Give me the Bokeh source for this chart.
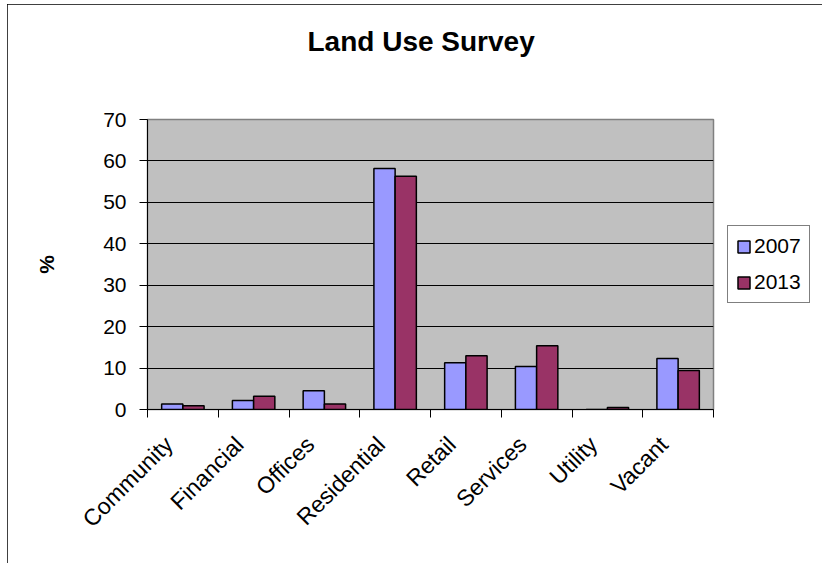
import numpy as np
from bokeh.plotting import figure
from bokeh.models import Range1d, FixedTicker, Legend, LegendItem, ColumnDataSource, Title
from bokeh.embed import file_html
from bokeh.resources import INLINE

categories = ["Community", "Financial", "Offices", "Residential", "Retail", "Services", "Utility", "Vacant"]
series_names = ["2007", "2013"]
values_2007 = [1.3, 2.2, 4.5, 58.2, 11.3, 10.4, 0.0, 12.3]
values_2013 = [0.9, 3.2, 1.3, 56.3, 13.0, 15.4, 0.5, 9.4]
y_ticks = [0, 10, 20, 30, 40, 50, 60, 70]

FONT = "Liberation Sans"

n = len(categories)
centers = np.arange(n) + 0.5
bounds = list(np.arange(n + 1).astype(float))
bar_w = 0.3
label_shift = 0.2  # rotated labels end slightly left of the group centre

p = figure(frame_width=566, frame_height=290, output_backend="svg", toolbar_location=None,
           x_range=Range1d(0, n), y_range=Range1d(y_ticks[0], y_ticks[-1]),
           min_border_left=140, min_border_right=109, min_border_top=115, min_border_bottom=154)
p.styles = {"margin-left": "7px", "margin-top": "4px",
            "outline": "1px solid #000000", "outline-offset": "-1px"}

src = ColumnDataSource(dict(x1=centers - bar_w / 2, x2=centers + bar_w / 2,
                            v1=values_2007, v2=values_2013))
r1 = p.vbar(x="x1", top="v1", width=bar_w, source=src, fill_color="#9999FF",
            line_color="#000000", line_width=1.5)
r2 = p.vbar(x="x2", top="v2", width=bar_w, source=src, fill_color="#993366",
            line_color="#000000", line_width=1.5)

p.background_fill_color = "#C0C0C0"
p.border_fill_color = "#FFFFFF"
p.outline_line_color = "#808080"
p.outline_line_width = 1.5

p.xgrid.visible = False
p.ygrid.ticker = FixedTicker(ticks=y_ticks)
p.ygrid.grid_line_color = "#000000"
p.ygrid.grid_line_width = 1

# real title (outer) and a blank spacer between it and the frame
p.title = Title(text="Land Use Survey", align="left", offset=160,
                text_font=FONT, text_font_size="28px", text_font_style="bold",
                text_color="#000000", standoff=10)
p.add_layout(Title(text=" ", text_font=FONT, text_font_size="10px", standoff=45), "above")

# y axis
ya = p.yaxis[0]
ya.ticker = FixedTicker(ticks=y_ticks)
ya.axis_line_color = "#000000"
ya.major_tick_out = 8
ya.major_tick_in = 0
ya.minor_tick_out = 0
ya.major_tick_line_color = "#000000"
ya.major_label_text_font = FONT
ya.major_label_text_font_size = "21px"
ya.major_label_text_color = "#000000"
ya.major_label_standoff = 13
ya.axis_label = "%"
ya.axis_label_text_font = FONT
ya.axis_label_text_font_size = "21px"
ya.axis_label_text_font_style = "bold"
ya.axis_label_text_color = "#000000"
ya.axis_label_standoff = 42

# x axis
label_pos = centers - label_shift
xa = p.xaxis[0]
xa.ticker = FixedTicker(ticks=list(label_pos), minor_ticks=bounds)
xa.major_label_overrides = {float(c): cat for c, cat in zip(label_pos, categories)}
xa.major_tick_out = 0
xa.major_tick_in = 0
xa.minor_tick_out = 8
xa.minor_tick_in = 0
xa.minor_tick_line_color = "#000000"
xa.axis_line_color = "#000000"
xa.major_label_orientation = np.pi / 4
xa.major_label_text_font = FONT
xa.major_label_text_font_size = "23px"
xa.major_label_text_color = "#000000"
xa.major_label_standoff = 23

legend = Legend(items=[LegendItem(label=series_names[0], renderers=[r1]),
                       LegendItem(label=series_names[1], renderers=[r2])],
                location="center_left")
legend.label_text_font = FONT
legend.label_text_font_size = "21px"
legend.label_text_color = "#000000"
legend.glyph_width = 15
legend.glyph_height = 15
legend.label_height = 24
legend.spacing = 12
legend.padding = 8
legend.margin = 14
legend.label_standoff = 3
legend.border_line_color = "#000000"
legend.border_line_width = 1
legend.background_fill_color = "#FFFFFF"
legend.background_fill_alpha = 1.0
p.add_layout(legend, "right")

open("out.html", "w").write(file_html(p, INLINE))
